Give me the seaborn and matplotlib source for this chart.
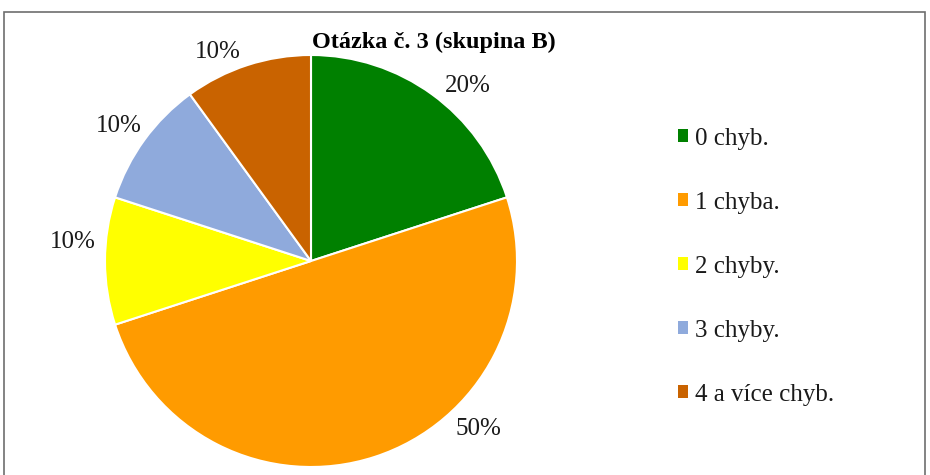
import matplotlib
matplotlib.use("Agg")
import numpy as np
import matplotlib.pyplot as plt
import matplotlib.patches as mpatches
import seaborn as sns

# data
categories = ["0 chyb.", "1 chyba.", "2 chyby.", "3 chyby.", "4 a více chyb."]
shares = [20, 50, 10, 10, 10]
colors = ["#008000", "#FF9B00", "#FFFF00", "#8FAADC", "#C96300"]
title = "Otázka č. 3 (skupina B)"

# label placement (best-fit style as in the original): angle shift and distance
label_shift = [-6, 27, -4.5, 1, 6]
label_dist = [1.14, 1.15, 1.16, 1.14, 1.11]

sns.set_theme(style="white")
plt.rcParams["font.family"] = ["Liberation Serif", "DejaVu Serif"]

fig = plt.figure(figsize=(9.3, 4.75), dpi=100)
fig.patch.set_facecolor("white")

# pie centred at ~ (311, 261) px with radius ~206 px
W, H = 930, 475
cx, cy, r = 311, 261, 206
ax = fig.add_axes([(cx - r) / W, (H - cy - r) / H, 2 * r / W, 2 * r / H])
wedges, texts = ax.pie(
    shares, colors=colors, startangle=90, counterclock=False,
    wedgeprops=dict(edgecolor="white", linewidth=1.5))
ax.set_xlim(-1, 1)
ax.set_ylim(-1, 1)
ax.set_aspect("equal")
for w in wedges:
    w.set_clip_on(False)

total = sum(shares)
for w, v, sh, d in zip(wedges, shares, label_shift, label_dist):
    ang = np.deg2rad((w.theta1 + w.theta2) / 2 + sh)
    ax.text(d * np.cos(ang), d * np.sin(ang), "{:.0f}%".format(100 * v / total),
            ha="center", va="center", fontsize=18, color="#1a1a1a", clip_on=False)

fig.text(434 / W, 1 - 42 / H, title, ha="center", va="center",
         fontsize=17.5, fontweight="bold", color="black")

handles = [mpatches.Patch(facecolor=c, edgecolor="none", label=l)
           for c, l in zip(colors, categories)]
fig.legend(handles=handles, loc="upper left", bbox_to_anchor=(655 / W, 1 - 105 / H),
           frameon=False, fontsize=18, handlelength=0.4, handleheight=0.4,
           handletextpad=0.3, labelspacing=1.68, labelcolor="#1a1a1a")

# outer border of the chart area
border = mpatches.Rectangle((4 / W, -0.05), 921 / W, 1.05 - 12 / H,
                            transform=fig.transFigure, fill=False,
                            edgecolor="#6e6e6e", linewidth=1.2)
fig.patches.append(border)

plt.savefig("out.png", dpi=100)
